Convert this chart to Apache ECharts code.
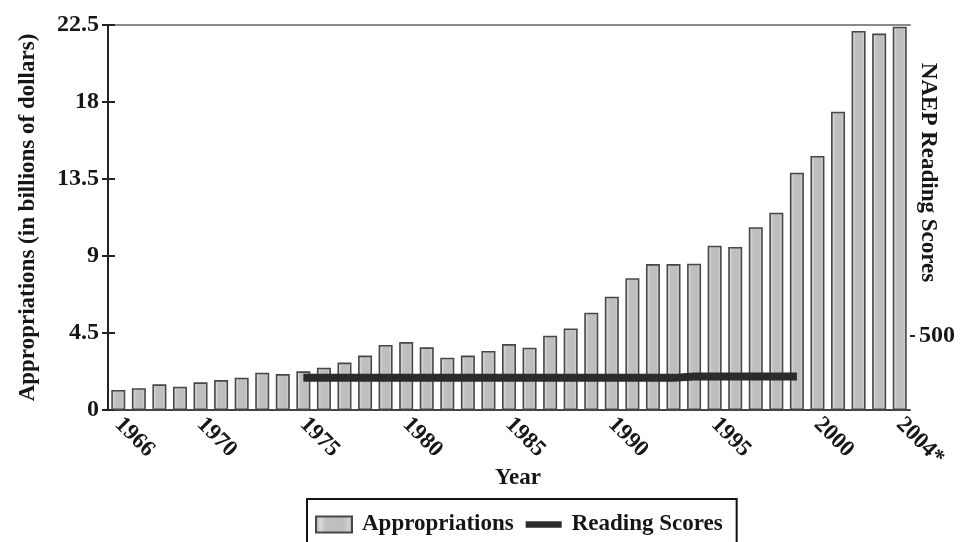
<!DOCTYPE html>
<html>
<head>
<meta charset="utf-8">
<script src="https://cdn.jsdelivr.net/npm/echarts@6/dist/echarts.min.js"></script>
<style>
  html, body { margin: 0; padding: 0; background: #fff; }
  #chart { width: 970px; height: 542px; }
</style>
</head>
<body>
<div id="chart"></div>
<script>
// Fiscal years on the category axis (the last one is an estimate)
const years = ['1966','1967','1968','1969','1970','1971','1972','1973','1974','1975',
  '1976','1977','1978','1979','1980','1981','1982','1983','1984','1985',
  '1986','1987','1988','1989','1990','1991','1992','1993','1994','1995',
  '1996','1997','1998','1999','2000','2001','2002','2003','2004*'];

// Appropriations, billions of dollars
const appropriations = [1.17, 1.27, 1.50, 1.36, 1.62, 1.75, 1.89, 2.18, 2.10, 2.26,
  2.47, 2.77, 3.18, 3.80, 3.97, 3.66, 3.06, 3.18, 3.45, 3.85,
  3.64, 4.34, 4.77, 5.69, 6.62, 7.70, 8.53, 8.53, 8.55, 9.60,
  9.53, 10.68, 11.53, 13.87, 14.85, 17.43, 22.15, 22.00, 22.40];

// NAEP reading scores (right axis), 1975 to 1999
const readingScores = [null, null, null, null, null, null, null, null, null, 217,
  217, 217, 217, 217, 217, 217, 217, 217, 217, 217,
  217, 217, 217, 217, 217, 217, 217, 217, 227, 227,
  227, 227, 227, 227, null, null, null, null, null];

// Tick labels
const leftTicks = [0, 4.5, 9, 13.5, 18, 22.5];
const rightTicks = [500];
const labeledYears = ['1966','1970','1975','1980','1985','1990','1995','2000','2004*'];

const serif = "'Liberation Serif', 'DejaVu Serif', 'Times New Roman', serif";
const ink = '#161616';
const boldText = (size) => ({ fontFamily: serif, fontWeight: 'bold', fontSize: size, color: ink });

const barFill = new echarts.graphic.LinearGradient(0, 0, 1, 0, [
  { offset: 0, color: '#a9a9a9' },
  { offset: 0.14, color: '#dadada' },
  { offset: 0.28, color: '#c0c0c0' },
  { offset: 0.74, color: '#bdbdbd' },
  { offset: 0.88, color: '#d2d2d2' },
  { offset: 1, color: '#a6a6a6' }
]);

const chart = echarts.init(document.getElementById('chart'), null, { renderer: 'canvas' });

chart.setOption({
  backgroundColor: '#ffffff',
  animation: false,
  grid: { left: 108, right: 60, top: 25, bottom: 132, containLabel: false, outerBoundsMode: 'none' },
  legend: {
    left: 307,
    top: 499,
    orient: 'horizontal',
    borderColor: '#111',
    borderWidth: 2,
    padding: [14, 14, 30, 8],
    itemGap: 12,
    itemWidth: 36,
    itemHeight: 16,
    textStyle: Object.assign(boldText(23), { padding: [0, 0, 0, 5] }),
    data: [
      { name: 'Appropriations', icon: 'rect' },
      { name: 'Reading Scores', icon: 'path://M0,0H40V7H0Z' }
    ]
  },
  xAxis: [
    {
      type: 'category',
      data: years,
      position: 'bottom',
      boundaryGap: true,
      name: 'Year',
      nameLocation: 'middle',
      nameGap: 57,
      nameMoveOverlap: false,
      nameTextStyle: Object.assign(boldText(23), { padding: [0, 0, 0, 18] }),
      axisLine: { show: true, onZero: false, lineStyle: { color: '#444', width: 2 } },
      axisTick: { show: false },
      axisLabel: Object.assign(boldText(23), {
        rotate: -45,
        margin: 11,
        interval: (i, v) => labeledYears.includes(v)
      }),
      splitLine: { show: false }
    },
    {
      type: 'category',
      data: years,
      position: 'top',
      axisLine: { show: true, onZero: false, lineStyle: { color: '#8a8a8a', width: 2 } },
      axisTick: { show: false },
      axisLabel: { show: false },
      splitLine: { show: false }
    }
  ],
  yAxis: [
    {
      type: 'value',
      position: 'left',
      min: 0,
      max: 22.5,
      interval: 4.5,
      name: 'Appropriations (in billions of dollars)',
      nameLocation: 'middle',
      nameGap: 68,
      nameRotate: 90,
      nameMoveOverlap: false,
      nameTextStyle: boldText(23),
      axisLine: { show: true, onZero: false, lineStyle: { color: '#222', width: 2 } },
      axisTick: { show: true, length: 6, lineStyle: { color: '#222', width: 2 } },
      axisLabel: Object.assign(boldText(24), {
        margin: 9,
        customValues: leftTicks,
        formatter: (v) => String(v)
      }),
      splitLine: { show: false }
    },
    {
      type: 'value',
      position: 'right',
      min: 0,
      max: 2600,
      name: 'NAEP Reading Scores',
      nameLocation: 'middle',
      nameGap: 6,
      nameRotate: -90,
      nameMoveOverlap: false,
      nameTextStyle: Object.assign(boldText(23), { padding: [0, 90, 0, 0] }),
      axisLine: { show: false },
      axisTick: { show: true, length: 5, customValues: rightTicks, lineStyle: { color: '#222', width: 2 } },
      axisLabel: Object.assign(boldText(24), { margin: 9, customValues: rightTicks }),
      splitLine: { show: false }
    },
    {
      // inner half of the left-axis tick marks
      type: 'value',
      position: 'left',
      offset: -7,
      min: 0,
      max: 22.5,
      interval: 4.5,
      axisLine: { show: false, onZero: false },
      axisTick: { show: true, length: 8, lineStyle: { color: '#222', width: 2 } },
      axisLabel: { show: false },
      splitLine: { show: false }
    }
  ],
  series: [
    {
      name: 'Appropriations',
      type: 'bar',
      xAxisIndex: 0,
      yAxisIndex: 0,
      data: appropriations,
      barWidth: 14,
      itemStyle: { color: barFill, borderColor: '#474747', borderWidth: 1.6 },
      z: 2
    },
    {
      name: 'Reading Scores',
      type: 'line',
      xAxisIndex: 0,
      yAxisIndex: 1,
      data: readingScores,
      showSymbol: false,
      symbol: 'none',
      connectNulls: false,
      itemStyle: { color: '#2b2b2b' },
      lineStyle: { color: '#2b2b2b', width: 8, cap: 'butt' },
      z: 3
    }
  ]
});
</script>
</body>
</html>
